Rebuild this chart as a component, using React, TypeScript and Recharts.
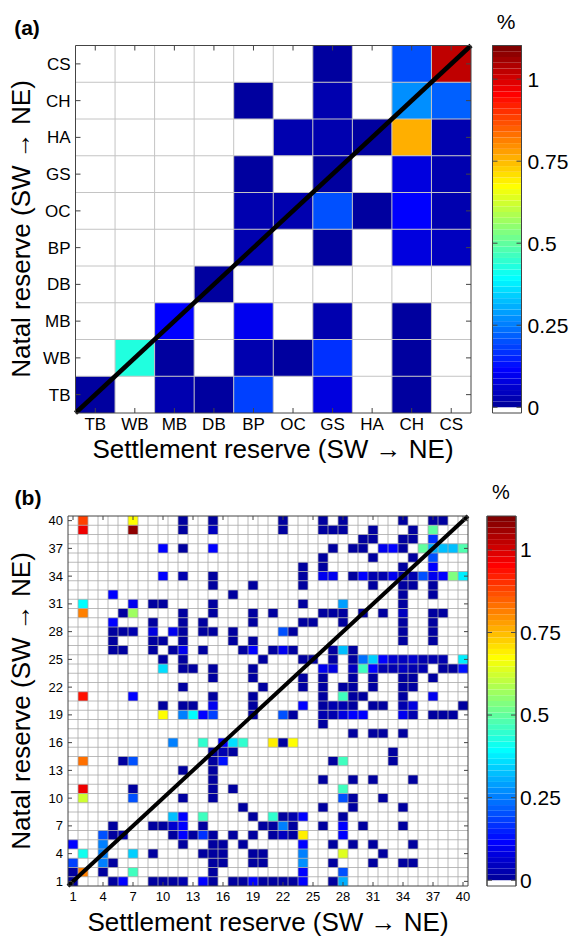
import React from "react";
import { ComposedChart, XAxis, YAxis, ReferenceArea, ReferenceLine } from "recharts";

const FONT = '"Liberation Sans", Arial, Helvetica, sans-serif';

// reserves ordered SW -> NE
const reservesA = ["TB", "WB", "MB", "DB", "BP", "OC", "GS", "HA", "CH", "CS"];
const ticksA = [1, 2, 3, 4, 5, 6, 7, 8, 9, 10];
const ticksB = [1, 4, 7, 10, 13, 16, 19, 22, 25, 28, 31, 34, 37, 40];
const colorTicks = [0, 0.25, 0.5, 0.75, 1];

type Flow = [number, number, number]; // [settlement, natal, %]

const flowsA: Flow[] = [
  [1, 1, 0.01], [3, 1, 0.02], [4, 1, 0.01], [5, 1, 0.18], [7, 1, 0.08], [9, 1, 0.01],
  [2, 2, 0.43], [3, 2, 0.01], [5, 2, 0.02], [6, 2, 0.01], [7, 2, 0.17], [9, 2, 0.01],
  [3, 3, 0.12], [5, 3, 0.09], [7, 3, 0.02], [9, 3, 0.01],
  [4, 4, 0.01],
  [5, 5, 0.02], [7, 5, 0.01], [9, 5, 0.08], [10, 5, 0.05],
  [5, 6, 0.02], [6, 6, 0.03], [7, 6, 0.2], [8, 6, 0.01], [9, 6, 0.11], [10, 6, 0.03],
  [5, 7, 0.01], [7, 7, 0.01], [9, 7, 0.08], [10, 7, 0.03],
  [6, 8, 0.03], [7, 8, 0.02], [8, 8, 0.01], [9, 8, 0.77], [10, 8, 0.03],
  [5, 9, 0.01], [7, 9, 0.02], [9, 9, 0.27], [10, 9, 0.22],
  [7, 10, 0.01], [9, 10, 0.2], [10, 10, 1.03],
];

const flowsB: Flow[] = [
  [2, 40, 0.88], [7, 40, 0.68], [12, 40, 0.01], [15, 40, 0.01], [22, 40, 0.01], [26, 40, 0.01], [28, 40, 0.01], [34, 40, 0.01], [37, 40, 0.01], [38, 40, 0.01],
  [2, 39, 0.97], [7, 39, 1.08], [12, 39, 0.01], [15, 39, 0.04], [22, 39, 0.01], [26, 39, 0.01], [27, 39, 0.01], [28, 39, 0.01], [31, 39, 0.01], [35, 39, 0.01], [37, 39, 0.5],
  [30, 38, 0.01], [31, 38, 0.01], [34, 38, 0.01], [35, 38, 0.01], [37, 38, 0.17],
  [10, 37, 0.12], [12, 37, 0.01], [15, 37, 0.12], [27, 37, 0.01], [29, 37, 0.01], [30, 37, 0.01], [32, 37, 0.1], [33, 37, 0.12], [34, 37, 0.01], [36, 37, 0.5], [37, 37, 0.3], [38, 37, 0.33], [39, 37, 0.33], [40, 37, 0.48],
  [26, 36, 0.01], [31, 36, 0.01], [35, 36, 0.01], [37, 36, 0.21],
  [24, 35, 0.01], [26, 35, 0.01], [34, 35, 0.01], [37, 35, 0.12],
  [10, 34, 0.11], [12, 34, 0.03], [15, 34, 0.01], [24, 34, 0.01], [26, 34, 0.09], [27, 34, 0.09], [29, 34, 0.01], [30, 34, 0.12], [31, 34, 0.02], [32, 34, 0.03], [33, 34, 0.1], [34, 34, 0.03], [35, 34, 0.03], [36, 34, 0.2], [37, 34, 0.09], [38, 34, 0.12], [39, 34, 0.53], [40, 34, 0.38],
  [15, 33, 0.01], [19, 33, 0.01], [24, 33, 0.01], [31, 33, 0.01], [34, 33, 0.01], [35, 33, 0.01], [37, 33, 0.01],
  [5, 32, 0.11], [17, 32, 0.01], [34, 32, 0.01], [37, 32, 0.01],
  [2, 31, 0.39], [7, 31, 0.1], [9, 31, 0.01], [10, 31, 0.01], [15, 31, 0.01], [24, 31, 0.01], [28, 31, 0.28], [34, 31, 0.01],
  [2, 30, 0.82], [6, 30, 0.01], [7, 30, 0.56], [12, 30, 0.01], [15, 30, 0.01], [19, 30, 0.01], [21, 30, 0.01], [26, 30, 0.01], [27, 30, 0.01], [28, 30, 0.01], [30, 30, 0.01], [32, 30, 0.01], [34, 30, 0.05], [37, 30, 0.01], [38, 30, 0.01],
  [5, 29, 0.11], [9, 29, 0.01], [12, 29, 0.01], [14, 29, 0.01], [19, 29, 0.01], [24, 29, 0.01], [25, 29, 0.01], [28, 29, 0.01], [34, 29, 0.01], [37, 29, 0.01],
  [5, 28, 0.01], [6, 28, 0.01], [7, 28, 0.02], [9, 28, 0.07], [11, 28, 0.1], [12, 28, 0.01], [14, 28, 0.01], [15, 28, 0.01], [17, 28, 0.01], [22, 28, 0.2], [23, 28, 0.01], [34, 28, 0.01], [37, 28, 0.01],
  [5, 27, 0.01], [9, 27, 0.01], [10, 27, 0.01], [12, 27, 0.01], [17, 27, 0.01], [19, 27, 0.01], [34, 27, 0.01], [37, 27, 0.01],
  [5, 26, 0.01], [6, 26, 0.01], [9, 26, 0.01], [11, 26, 0.01], [12, 26, 0.1], [14, 26, 0.01], [18, 26, 0.01], [19, 26, 0.12], [21, 26, 0.01], [22, 26, 0.1], [23, 26, 0.01], [27, 26, 0.01], [28, 26, 0.33], [29, 26, 0.01],
  [10, 25, 0.01], [12, 25, 0.01], [20, 25, 0.01], [24, 25, 0.01], [25, 25, 0.01], [27, 25, 0.01], [29, 25, 0.01], [30, 25, 0.24], [31, 25, 0.35], [32, 25, 0.12], [33, 25, 0.06], [34, 25, 0.04], [35, 25, 0.06], [36, 25, 0.03], [37, 25, 0.03], [38, 25, 0.02], [40, 25, 0.37],
  [10, 24, 0.36], [12, 24, 0.01], [13, 24, 0.01], [15, 24, 0.01], [19, 24, 0.01], [26, 24, 0.1], [27, 24, 0.08], [29, 24, 0.05], [30, 24, 0.47], [31, 24, 0.11], [32, 24, 0.03], [33, 24, 0.03], [34, 24, 0.04], [35, 24, 0.02], [36, 24, 0.02], [38, 24, 0.01], [39, 24, 0.01], [40, 24, 0.13],
  [15, 23, 0.01], [19, 23, 0.01], [24, 23, 0.01], [26, 23, 0.01], [29, 23, 0.01], [31, 23, 0.01], [34, 23, 0.01], [35, 23, 0.01], [37, 23, 0.01],
  [12, 22, 0.01], [20, 22, 0.01], [24, 22, 0.01], [26, 22, 0.01], [28, 22, 0.01], [29, 22, 0.01], [31, 22, 0.01], [34, 22, 0.01], [35, 22, 0.01],
  [2, 21, 0.93], [7, 21, 0.11], [15, 21, 0.01], [19, 21, 0.01], [26, 21, 0.01], [28, 21, 0.46], [29, 21, 0.01], [30, 21, 0.01], [34, 21, 0.01], [37, 21, 0.1],
  [10, 20, 0.01], [12, 20, 0.01], [13, 20, 0.01], [15, 20, 0.09], [19, 20, 0.01], [24, 20, 0.11], [26, 20, 0.01], [27, 20, 0.02], [28, 20, 0.03], [29, 20, 0.01], [31, 20, 0.01], [32, 20, 0.01], [34, 20, 0.03], [35, 20, 0.08], [40, 20, 0.01],
  [10, 19, 0.68], [12, 19, 0.26], [13, 19, 0.39], [14, 19, 0.12], [15, 19, 0.19], [19, 19, 0.01], [22, 19, 0.2], [23, 19, 0.01], [26, 19, 0.02], [27, 19, 0.03], [28, 19, 0.08], [29, 19, 0.12], [30, 19, 0.12], [34, 19, 0.09], [35, 19, 0.02], [37, 19, 0.01], [38, 19, 0.01], [39, 19, 0.01],
  [26, 18, 0.01],
  [29, 17, 0.01], [31, 17, 0.01], [32, 17, 0.01], [34, 17, 0.01],
  [11, 16, 0.26], [14, 16, 0.44], [16, 16, 0.11], [17, 16, 0.36], [18, 16, 0.44], [21, 16, 0.7], [22, 16, 0.01], [23, 16, 0.68],
  [15, 15, 0.01], [16, 15, 0.02], [17, 15, 0.01], [33, 15, 0.01],
  [2, 14, 0.83], [6, 14, 0.01], [7, 14, 0.2], [15, 14, 0.01], [16, 14, 0.13], [27, 14, 0.01], [28, 14, 0.47], [33, 14, 0.01],
  [12, 13, 0.01], [15, 13, 0.01],
  [15, 12, 0.01], [26, 12, 0.01], [29, 12, 0.01], [31, 12, 0.01], [35, 12, 0.01],
  [2, 11, 0.97], [7, 11, 0.01], [15, 11, 0.01], [17, 11, 0.01], [28, 11, 0.46],
  [2, 10, 0.62], [7, 10, 0.21], [12, 10, 0.01], [15, 10, 0.01], [28, 10, 0.2], [29, 10, 0.01], [32, 10, 0.01],
  [18, 9, 0.01], [26, 9, 0.01], [29, 9, 0.01], [34, 9, 0.01],
  [11, 8, 0.32], [12, 8, 0.12], [14, 8, 0.46], [19, 8, 0.01], [21, 8, 0.45], [22, 8, 0.01], [23, 8, 0.02], [24, 8, 0.11], [28, 8, 0.01],
  [5, 7, 0.01], [9, 7, 0.01], [10, 7, 0.01], [11, 7, 0.06], [12, 7, 0.11], [14, 7, 0.01], [20, 7, 0.01], [21, 7, 0.01], [22, 7, 0.25], [23, 7, 0.01], [26, 7, 0.01], [28, 7, 0.12], [30, 7, 0.01], [34, 7, 0.01],
  [4, 6, 0.2], [5, 6, 0.01], [6, 6, 0.02], [11, 6, 0.01], [12, 6, 0.11], [13, 6, 0.01], [14, 6, 0.17], [15, 6, 0.01], [17, 6, 0.01], [19, 6, 0.01], [21, 6, 0.01], [22, 6, 0.05], [23, 6, 0.01], [24, 6, 0.69], [28, 6, 0.11],
  [1, 5, 0.12], [4, 5, 0.25], [12, 5, 0.01], [15, 5, 0.01], [16, 5, 0.01], [18, 5, 0.01], [24, 5, 0.12], [27, 5, 0.01], [29, 5, 0.01], [31, 5, 0.01], [35, 5, 0.01],
  [2, 4, 0.42], [4, 4, 0.25], [7, 4, 0.34], [9, 4, 0.01], [14, 4, 0.01], [15, 4, 0.01], [16, 4, 0.01], [19, 4, 0.01], [20, 4, 0.01], [24, 4, 0.26], [28, 4, 0.64], [32, 4, 0.01],
  [1, 3, 0.18], [4, 3, 0.26], [5, 3, 0.01], [15, 3, 0.01], [16, 3, 0.01], [19, 3, 0.01], [20, 3, 0.01], [24, 3, 0.27], [27, 3, 0.01], [31, 3, 0.01], [34, 3, 0.01], [35, 3, 0.01],
  [1, 2, 0.01], [2, 2, 0.82], [4, 2, 0.01], [7, 2, 0.47], [15, 2, 0.01], [24, 2, 0.12], [28, 2, 0.2],
  [1, 1, 0.01], [5, 1, 0.01], [6, 1, 0.11], [9, 1, 0.01], [10, 1, 0.01], [11, 1, 0.01], [12, 1, 0.02], [14, 1, 0.11], [15, 1, 0.01], [17, 1, 0.01], [18, 1, 0.01], [19, 1, 0.11], [20, 1, 0.01], [21, 1, 0.01], [22, 1, 0.01], [23, 1, 0.01], [24, 1, 0.12], [27, 1, 0.01], [28, 1, 0.3],
];

// colour scale: jet(64) with the lowest bin white
const C_MIN = -0.0175;
const C_MAX = 1.1025;
const N_COLORS = 64;

function buildJet(m: number): string[] {
  const n = Math.ceil(m / 4);
  const u: number[] = [];
  for (let i = 1; i <= n; i++) u.push(i / n);
  for (let i = 1; i < n; i++) u.push(1);
  for (let i = n; i >= 1; i--) u.push(i / n);
  const g0 = Math.ceil(n / 2) - (m % 4 === 1 ? 1 : 0);
  const rgb = Array.from({ length: m }, () => [0, 0, 0]);
  u.forEach((val, k) => {
    const gi = g0 + k + 1;
    const ri = gi + n;
    const bi = gi - n;
    if (ri >= 1 && ri <= m) rgb[ri - 1][0] = val;
    if (gi >= 1 && gi <= m) rgb[gi - 1][1] = val;
    if (bi >= 1 && bi <= m) rgb[bi - 1][2] = val;
  });
  return rgb.map(
    ([r, g, b]) => `rgb(${Math.round(r * 255)},${Math.round(g * 255)},${Math.round(b * 255)})`
  );
}

const PALETTE = ["#ffffff", ...buildJet(N_COLORS).slice(1)];
const STEP = (C_MAX - C_MIN) / N_COLORS;

function colorOf(v: number) {
  const i = Math.floor((v - C_MIN) / STEP);
  return PALETTE[Math.max(0, Math.min(N_COLORS - 1, i))];
}

const FRAME = "#444";
const blankTick = () => <g />;

type Margin = { top: number; right: number; bottom: number; left: number };

type HeatProps = {
  n: number;
  flows: Flow[];
  ticks: number[];
  format?: (v: number) => string;
  width: number;
  height: number;
  margin: Margin;
  fontSize: number;
  tickLen: number;
  gapX: number;
  gapY: number;
  gridColor: string;
  gridWidth: number;
  diagWidth: number;
};

function Heatmap(p: HeatProps) {
  const dom: [number, number] = [0.5, p.n + 0.5];
  const edges = Array.from({ length: p.n - 1 }, (_, i) => i + 1.5);
  const tickStyle = { fill: "#000", fontSize: p.fontSize, fontFamily: FONT };
  const line = { stroke: FRAME, strokeWidth: 1 };
  const data = p.flows.map(([x, y, v]) => ({ x, y, v }));

  return (
    <ComposedChart width={p.width} height={p.height} margin={p.margin} data={data}>
      <XAxis
        dataKey="x"
        type="number"
        domain={dom}
        ticks={p.ticks}
        interval={0}
        allowDataOverflow
        height={30}
        tickSize={-p.tickLen}
        tickMargin={p.gapX}
        tick={tickStyle}
        tickFormatter={p.format}
        axisLine={line}
        tickLine={line}
      />
      <XAxis
        xAxisId="top"
        dataKey="x"
        orientation="top"
        type="number"
        domain={dom}
        ticks={p.ticks}
        interval={0}
        allowDataOverflow
        height={1}
        tickSize={-p.tickLen}
        tick={blankTick}
        axisLine={line}
        tickLine={line}
      />
      <YAxis
        dataKey="y"
        type="number"
        domain={dom}
        ticks={p.ticks}
        interval={0}
        allowDataOverflow
        width={60}
        tickSize={-p.tickLen}
        tickMargin={p.gapY}
        tick={tickStyle}
        tickFormatter={p.format}
        axisLine={line}
        tickLine={line}
      />
      <YAxis
        yAxisId="right"
        dataKey="y"
        orientation="right"
        type="number"
        domain={dom}
        ticks={p.ticks}
        interval={0}
        allowDataOverflow
        width={1}
        tickSize={-p.tickLen}
        tick={blankTick}
        axisLine={line}
        tickLine={line}
      />
      {p.flows.map(([x, y, v]) => (
        <ReferenceArea
          key={`c-${x}-${y}`}
          x1={x - 0.5}
          x2={x + 0.5}
          y1={y - 0.5}
          y2={y + 0.5}
          fill={colorOf(v)}
          fillOpacity={1}
          stroke="none"
          ifOverflow="visible"
        />
      ))}
      {edges.map((e) => (
        <ReferenceLine key={`gx-${e}`} x={e} stroke={p.gridColor} strokeWidth={p.gridWidth} />
      ))}
      {edges.map((e) => (
        <ReferenceLine key={`gy-${e}`} y={e} stroke={p.gridColor} strokeWidth={p.gridWidth} />
      ))}
      <ReferenceLine
        segment={[
          { x: 0.5, y: 0.5 },
          { x: p.n + 0.5, y: p.n + 0.5 },
        ]}
        stroke="#000"
        strokeWidth={p.diagWidth}
        ifOverflow="visible"
      />
    </ComposedChart>
  );
}

type BarProps = { width: number; height: number; margin: Margin; fontSize: number; gap: number; labelWidth: number };

function ColorBar(p: BarProps) {
  const bins = PALETTE.map((fill, i) => ({ lo: C_MIN + i * STEP, hi: C_MIN + (i + 1) * STEP, fill }));
  const line = { stroke: FRAME, strokeWidth: 1 };
  return (
    <ComposedChart width={p.width} height={p.height} margin={p.margin} data={bins}>
      <XAxis type="number" domain={[0, 1]} hide />
      <YAxis
        type="number"
        domain={[C_MIN, C_MAX]}
        allowDataOverflow
        ticks={colorTicks}
        interval={0}
        width={1}
        tickSize={-5}
        tick={blankTick}
        axisLine={line}
        tickLine={line}
      />
      <YAxis
        yAxisId="labels"
        orientation="right"
        type="number"
        domain={[C_MIN, C_MAX]}
        allowDataOverflow
        ticks={colorTicks}
        interval={0}
        width={p.labelWidth}
        tickSize={-5}
        tickMargin={p.gap}
        tick={{ fill: "#000", fontSize: p.fontSize, fontFamily: FONT, textAnchor: "start" }}
        axisLine={line}
        tickLine={line}
      />
      {bins.map((b, i) => (
        <ReferenceArea key={i} y1={b.lo} y2={b.hi} fill={b.fill} fillOpacity={1} stroke="none" ifOverflow="visible" />
      ))}
      <ReferenceArea y1={C_MIN} y2={C_MAX} fill="none" stroke={FRAME} strokeWidth={1} ifOverflow="visible" />
    </ComposedChart>
  );
}

const abs = (left: number, top: number): React.CSSProperties => ({ position: "absolute", left, top });

function Text({ x, y, size, bold, rotate, children }: { x: number; y: number; size: number; bold?: boolean; rotate?: boolean; children: React.ReactNode }) {
  return (
    <div
      style={{
        position: "absolute",
        left: x,
        top: y,
        transform: `translate(-50%, -50%)${rotate ? " rotate(-90deg)" : ""}`,
        fontFamily: FONT,
        fontSize: size,
        fontWeight: bold ? "bold" : "normal",
        lineHeight: 1,
        whiteSpace: "nowrap",
        color: "#000",
      }}
    >
      {children}
    </div>
  );
}

export default function App() {
  return (
    <div style={{ position: "absolute", left: 0, top: 0, width: 573, height: 936, background: "#fff", overflow: "hidden" }}>
      <div style={abs(0, 0)}>
        <Heatmap
          n={10}
          flows={flowsA}
          ticks={ticksA}
          format={(v) => reservesA[v - 1] ?? ""}
          width={520}
          height={460}
          margin={{ top: 44.5, right: 48, bottom: 17, left: 15.5 }}
          fontSize={17}
          tickLen={5}
          gapX={10}
          gapY={10}
          gridColor="#c4c4c4"
          gridWidth={1}
          diagWidth={4.5}
        />
      </div>
      <div style={abs(480, 0)}>
        <ColorBar width={93} height={440} margin={{ top: 45.5, right: 6.5, bottom: 27, left: 11.5 }} fontSize={21} gap={11} labelWidth={45} />
      </div>
      <div style={abs(0, 470)}>
        <Heatmap
          n={40}
          flows={flowsB}
          ticks={ticksB}
          width={480}
          height={460}
          margin={{ top: 45, right: 11, bottom: 14, left: 8 }}
          fontSize={13}
          tickLen={4}
          gapX={10}
          gapY={9}
          gridColor="#a8a8a8"
          gridWidth={0.8}
          diagWidth={4}
        />
      </div>
      <div style={abs(470, 470)}>
        <ColorBar width={103} height={460} margin={{ top: 46, right: 12, bottom: 44, left: 16 }} fontSize={21} gap={9} labelWidth={45} />
      </div>

      <Text x={27} y={27} size={21} bold>(a)</Text>
      <Text x={506} y={21} size={21}>%</Text>
      <Text x={273} y={449} size={26}>Settlement reserve (SW → NE)</Text>
      <Text x={21} y={229} size={26} rotate>Natal reserve (SW → NE)</Text>

      <Text x={28} y={497} size={21} bold>(b)</Text>
      <Text x={501} y={492} size={20}>%</Text>
      <Text x={268} y={922} size={26}>Settlement reserve (SW → NE)</Text>
      <Text x={21} y={701} size={26} rotate>Natal reserve (SW → NE)</Text>
    </div>
  );
}
